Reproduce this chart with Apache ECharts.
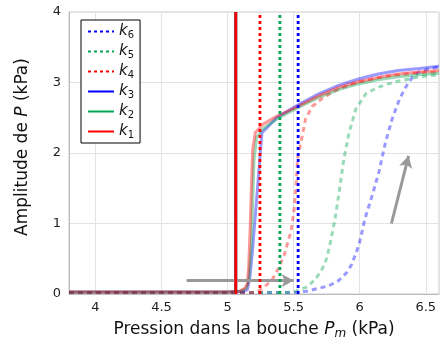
<!DOCTYPE html>
<html><head><meta charset="utf-8">
<script src="https://cdn.jsdelivr.net/npm/echarts@6/dist/echarts.min.js"></script>
<style>html,body{margin:0;padding:0;background:#fff}#c{width:440px;height:345px}</style>
</head><body><div id="c"></div>
<script>
// x ticks and y ticks
const xTicks = [4, 4.5, 5, 5.5, 6, 6.5];
const yTicks = [0, 1, 2, 3, 4];
// legend names (top to bottom)
const legendNames = ['k6', 'k5', 'k4', 'k3', 'k2', 'k1'];
// threshold pressures (vertical lines), kPa
const thrK1 = 5.062, thrK2 = 5.062, thrK3 = 5.062;
const thrK4 = 5.245, thrK5 = 5.396, thrK6 = 5.534;
// measured amplitude curves [Pm, amplitude]
const curveK1 = [[3.8,0.03],[4.5,0.03],[5.0,0.03],[5.09,0.04],[5.13,0.08],[5.15,0.14],[5.16,0.4],[5.17,0.89],[5.18,1.5],[5.19,2.05],[5.21,2.29],[5.27,2.41],[5.37,2.52],[5.51,2.64],[5.69,2.81],[5.84,2.93],[5.99,3.01],[6.14,3.07],[6.29,3.12],[6.45,3.15],[6.6,3.17]];
const curveK2 = [[3.8,0.03],[4.5,0.03],[5.0,0.03],[5.1,0.04],[5.14,0.08],[5.16,0.2],[5.18,0.7],[5.19,1.3],[5.2,1.9],[5.22,2.22],[5.26,2.33],[5.31,2.4],[5.39,2.5],[5.54,2.65],[5.69,2.79],[5.84,2.9],[5.99,2.98],[6.14,3.04],[6.29,3.08],[6.45,3.11],[6.6,3.13]];
const curveK3 = [[3.8,0.03],[4.5,0.03],[5.0,0.03],[5.12,0.04],[5.15,0.06],[5.17,0.25],[5.19,0.65],[5.22,1.35],[5.24,1.82],[5.26,2.29],[5.31,2.38],[5.37,2.5],[5.54,2.69],[5.69,2.84],[5.84,2.96],[5.99,3.05],[6.14,3.12],[6.29,3.17],[6.45,3.2],[6.6,3.23]];
const curveK4 = [[3.8,0.02],[5.2,0.02],[5.24,0.05],[5.29,0.12],[5.34,0.21],[5.39,0.38],[5.43,0.56],[5.48,0.89],[5.505,1.22],[5.52,1.59],[5.53,1.92],[5.56,2.2],[5.59,2.48],[5.64,2.66],[5.72,2.78],[5.8,2.87],[5.9,2.95],[6.0,3.01],[6.2,3.09],[6.4,3.13],[6.6,3.15]];
const curveK5 = [[3.8,0.02],[5.45,0.02],[5.52,0.04],[5.6,0.1],[5.66,0.2],[5.71,0.33],[5.75,0.5],[5.78,0.75],[5.81,1.03],[5.845,1.45],[5.88,1.92],[5.92,2.29],[5.97,2.62],[6.05,2.85],[6.15,2.94],[6.27,3.01],[6.45,3.08],[6.6,3.11]];
const curveK6 = [[3.8,0.02],[5.5,0.02],[5.6,0.04],[5.71,0.09],[5.77,0.12],[5.84,0.19],[5.9,0.3],[5.94,0.42],[5.995,0.7],[6.04,1.07],[6.095,1.4],[6.145,1.73],[6.195,2.15],[6.245,2.48],[6.3,2.76],[6.35,2.94],[6.4,3.08],[6.45,3.15],[6.52,3.19],[6.6,3.22]];
// arrows [[x0,y0],[x1,y1]]
const arrowH = [[4.69,0.19],[5.5,0.19]];
const arrowD = [[6.24,1.0],[6.37,1.96]];

const RED='#ff0000', GREEN='#00a651', BLUE='#0000ff';
const LRED='rgba(255,0,0,0.4)', LGREEN='rgba(0,166,81,0.4)', LBLUE='rgba(0,0,255,0.4)';
const FONT = 'DejaVu Sans';

function curve(data, color, dashed){
  return {type:'line', data, showSymbol:false, symbol:'none', silent:true, z:2,
    lineStyle:{color, width:3, type: dashed?[5,4]:'solid'}};
}
function vline(name, x, color, dashed, z){
  return {name, type:'line', data:[[x,0],[x,4]], showSymbol:false, symbol:'none', z:z||5, silent:true,
    itemStyle:{color}, lineStyle:{color, width:2.8, type: dashed?[3,3]:'solid'}};
}
function arrow(pts){
  return {type:'line', data:[], silent:true, z:6,
    markLine:{silent:true, symbol:['none','arrow'], symbolSize:[10,12], animation:false, label:{show:false},
      lineStyle:{color:'#999', width:3, type:'solid'},
      data:[[{coord:pts[0]},{coord:pts[1]}]]}};
}

const chart = echarts.init(document.getElementById('c'), null, {renderer:'canvas'});
chart.setOption({
  animation:false,
  textStyle:{fontFamily:FONT},
  grid:{left:69, right:1, top:12, bottom:49, show:true, borderColor:'#ccc', borderWidth:1},
  xAxis:{type:'value', min:3.8, max:6.6,
    axisLine:{show:true, lineStyle:{color:'#bbb'}}, axisTick:{show:false},
    axisLabel:{customValues:xTicks, color:'#222', fontSize:13, fontFamily:FONT, margin:7},
    splitLine:{show:true, lineStyle:{color:'#e3e3e3'}},
    name:'Pression dans la bouche {i|P}{s|m} (kPa)', nameLocation:'middle', nameGap:26,
    nameTextStyle:{fontSize:17, color:'#111', fontFamily:FONT,
      rich:{i:{fontStyle:'italic', fontSize:17, fontFamily:FONT, color:'#111'},
            s:{fontStyle:'italic', fontSize:12, fontFamily:FONT, color:'#111', padding:[8,0,0,0]}}}},
  yAxis:{type:'value', min:0, max:4, interval:1,
    axisLine:{show:true, lineStyle:{color:'#bbb'}}, axisTick:{show:false},
    axisLabel:{color:'#222', fontSize:13, fontFamily:FONT, margin:8},
    splitLine:{show:true, lineStyle:{color:'#e3e3e3'}},
    name:'Amplitude de {i|P} (kPa)', nameLocation:'middle', nameGap:38, nameRotate:90,
    nameTextStyle:{fontSize:17, color:'#111', fontFamily:FONT, padding:[0,0,0,12],
      rich:{i:{fontStyle:'italic', fontSize:17, fontFamily:FONT, color:'#111'}}}},
  legend:{data:legendNames, orient:'vertical', left:81, top:20, backgroundColor:'#fff',
    borderColor:'#000', borderWidth:1, borderRadius:0, padding:[4,6,3,6], itemGap:4,
    itemWidth:26, itemHeight:14, selectedMode:false,
    itemStyle:{opacity:0},
    formatter: n => '{k|k}{s|' + n.slice(1) + '}',
    textStyle:{fontFamily:FONT, color:'#111',
      rich:{k:{fontStyle:'italic', fontSize:15, fontFamily:FONT}, s:{fontSize:10, fontFamily:FONT, padding:[7,0,0,0]}}}},
  series:[
    curve(curveK6, LBLUE, true),
    curve(curveK5, LGREEN, true),
    curve(curveK4, LRED, true),
    curve(curveK3, LBLUE, false),
    curve(curveK2, LGREEN, false),
    curve(curveK1, LRED, false),
    arrow(arrowH),
    arrow(arrowD),
    vline('k3', thrK3, BLUE, false, 4),
    vline('k2', thrK2, GREEN, false, 4),
    vline('k1', thrK1, RED, false, 5),
    vline('k4', thrK4, RED, true),
    vline('k5', thrK5, GREEN, true),
    vline('k6', thrK6, BLUE, true)
  ]
});
</script></body></html>
